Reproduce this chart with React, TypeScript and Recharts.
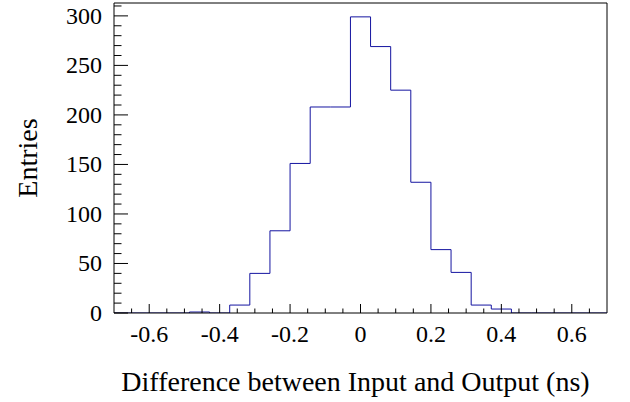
import React from 'react';
import { ComposedChart, Line, XAxis, YAxis, ReferenceLine } from 'recharts';

// histogram: 35 bins over [-1, 1], only the visible ones (bin index -12..12)
const binWidth = 2 / 35;
const binIndex = [-12, -11, -10, -9, -8, -7, -6, -5, -4, -3, -2, -1, 0, 1, 2, 3, 4, 5, 6, 7, 8, 9, 10, 11, 12];
const counts = [0, 0, 0, 0, 1, 0, 8, 40, 83, 151, 208, 208, 299, 269, 225, 132, 64, 41, 8, 4, 0, 0, 0, 0, 0];

const xTicks = [-0.65, -0.6, -0.55, -0.5, -0.45, -0.4, -0.35, -0.3, -0.25, -0.2, -0.15, -0.1, -0.05, 0,
  0.05, 0.1, 0.15, 0.2, 0.25, 0.3, 0.35, 0.4, 0.45, 0.5, 0.55, 0.6, 0.65];
const xLabels = [-0.6, -0.4, -0.2, 0, 0.2, 0.4, 0.6];
const yTicks = [0, 10, 20, 30, 40, 50, 60, 70, 80, 90, 100, 110, 120, 130, 140, 150, 160, 170, 180, 190,
  200, 210, 220, 230, 240, 250, 260, 270, 280, 290, 300, 310];
const yLabels = [0, 50, 100, 150, 200, 250, 300];

// step points: left edge of each bin, plus the right edge of the last one
const data = binIndex.map((k, i) => ({ x: (k - 0.5) * binWidth, n: counts[i] }));
data.push({ x: (binIndex[binIndex.length - 1] + 0.5) * binWidth, n: counts[counts.length - 1] });

const font = '"Liberation Serif", "Times New Roman", serif';
const lineColor = '#1414a0';
const textStyle = { fontFamily: font };

const isLabel = (list: number[], v: number) => list.some((l) => Math.abs(l - v) < 1e-9);

const XTick = (props: any) => {
  const { x, y, payload } = props;
  const major = isLabel(xLabels, payload.value);
  return (
    <g>
      <line x1={x} x2={x} y1={y} y2={y - (major ? 9 : 4.5)} stroke="#000" />
      {major && (
        <text x={x} y={y + 29} textAnchor="middle" style={textStyle} fontSize={24} fill="#000">
          {String(payload.value)}
        </text>
      )}
    </g>
  );
};

const YTick = (props: any) => {
  const { x, y, payload } = props;
  const major = isLabel(yLabels, payload.value);
  return (
    <g>
      <line x1={x} x2={x + (major ? 14 : 7.5)} y1={y} y2={y} stroke="#000" />
      {major && (
        <text x={x - 12} y={y + 8} textAnchor="end" style={textStyle} fontSize={24} fill="#000">
          {String(payload.value)}
        </text>
      )}
    </g>
  );
};

export default function App() {
  return (
    <div style={{ position: 'absolute', left: 0, top: 0, background: '#fff' }}>
      <ComposedChart width={630} height={402} data={data} margin={{ top: 3, right: 23, left: 0, bottom: 0 }}>
        <XAxis
          dataKey="x"
          type="number"
          domain={[-0.7, 0.7]}
          allowDataOverflow
          ticks={xTicks}
          interval={0}
          tickSize={0}
          tickMargin={0}
          tick={<XTick />}
          height={89}
          axisLine={{ stroke: '#000' }}
          label={{
            value: 'Difference between Input and Output (ns)',
            content: (p: any) => (
              <text
                x={p.viewBox.x + p.viewBox.width / 2 - 5}
                y={391}
                textAnchor="middle"
                style={textStyle}
                fontSize={28}
                fill="#000"
              >
                Difference between Input and Output (ns)
              </text>
            ),
          }}
        />
        <YAxis
          type="number"
          domain={[0, 313]}
          allowDataOverflow
          ticks={yTicks}
          interval={0}
          tickSize={0}
          tickMargin={0}
          tick={<YTick />}
          width={114}
          axisLine={{ stroke: '#000' }}
          label={{
            value: 'Entries',
            content: (p: any) => {
              const cy = p.viewBox.y + p.viewBox.height / 2;
              return (
                <text
                  x={37}
                  y={cy}
                  transform={`rotate(-90 37 ${cy})`}
                  textAnchor="middle"
                  style={textStyle}
                  fontSize={28}
                  fill="#000"
                >
                  Entries
                </text>
              );
            },
          }}
        />
        <ReferenceLine y={313} stroke="#000" />
        <ReferenceLine x={0.7} stroke="#000" />
        <Line
          type="stepAfter"
          dataKey="n"
          stroke={lineColor}
          strokeWidth={1}
          dot={false}
          activeDot={false}
          isAnimationActive={false}
        />
      </ComposedChart>
    </div>
  );
}
